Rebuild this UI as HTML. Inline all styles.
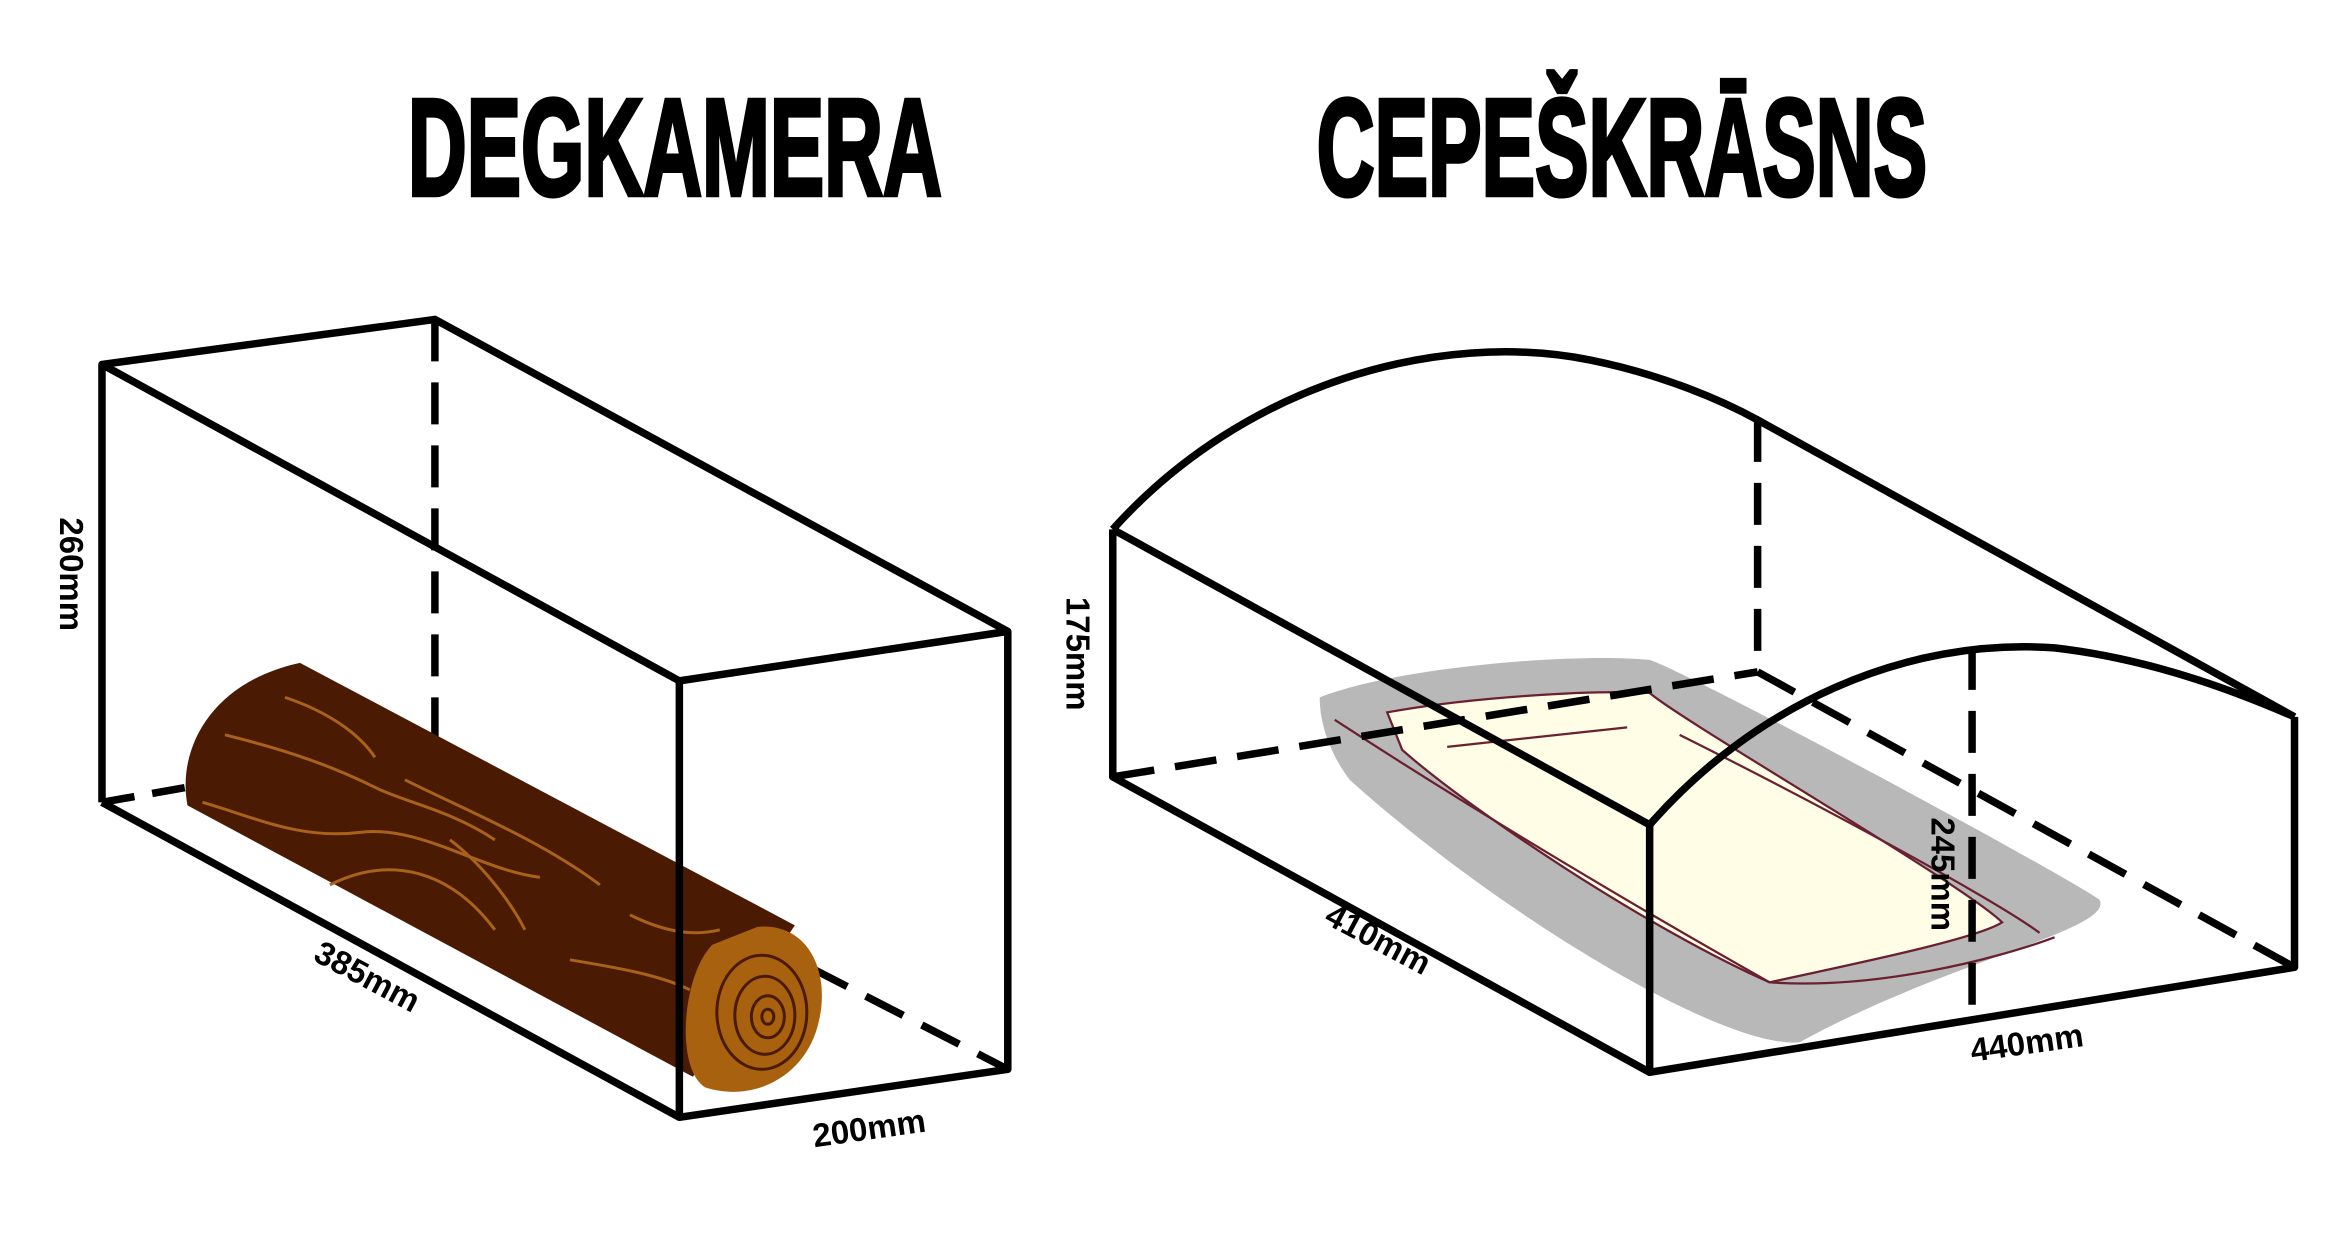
<!DOCTYPE html>
<html><head><meta charset="utf-8"><style>
html,body{margin:0;padding:0;background:#fff;width:2344px;height:1250px;overflow:hidden}
svg{display:block}
text{font-family:"Liberation Sans",sans-serif;font-weight:bold;fill:#000}
</style></head><body>
<svg width="2344" height="1250" viewBox="0 0 1563 833.5" preserveAspectRatio="none" xmlns="http://www.w3.org/2000/svg">
<rect width="1563" height="834" fill="#fff"/>
<!-- titles -->
<text x="272" y="130" font-size="92" textLength="356" lengthAdjust="spacingAndGlyphs" stroke="#000" stroke-width="3">DEGKAMERA</text>
<text x="878" y="130" font-size="92" textLength="407" lengthAdjust="spacingAndGlyphs" stroke="#000" stroke-width="3">CEPEŠKRĀSNS</text>

<!-- LEFT BOX -->
<g stroke="#000" stroke-width="5" fill="none" stroke-linejoin="round">
<line x1="290" y1="213" x2="290" y2="495" stroke-dasharray="28,14"/>
<line x1="68" y1="535" x2="130" y2="524" stroke-dasharray="22,12"/>
<line x1="540" y1="645" x2="672" y2="713" stroke-dasharray="28,14"/>
</g>
<!-- log -->
<path d="M200,442 L530,617 L462,718 L125,537 C118,500 140,455 200,442 Z" fill="#4a1a03"/>
<g stroke="#a8621a" stroke-width="2" fill="none">
<path d="M135,535 C170,545 200,560 240,555 C280,550 320,580 360,585"/>
<path d="M150,490 C190,500 220,510 250,525 C270,535 300,540 330,560"/>
<path d="M190,465 C220,475 240,490 250,505"/>
<path d="M220,590 C260,570 300,580 330,620"/>
<path d="M270,520 C310,540 360,560 400,590"/>
<path d="M300,560 C320,575 340,600 350,620"/>
<path d="M380,640 C410,645 440,650 460,660"/>
<path d="M420,610 C440,620 460,625 480,620"/>
</g>
<path d="M505,618 C540,615 555,650 545,685 C535,720 500,735 470,725 C450,712 455,650 475,630 Z" fill="#a8620f"/>
<g stroke="#4a1a03" stroke-width="2" fill="none">
<ellipse cx="508" cy="675" rx="30" ry="38"/>
<ellipse cx="510" cy="677" rx="20" ry="26"/>
<ellipse cx="512" cy="678" rx="11" ry="14"/>
<ellipse cx="512" cy="678" rx="4" ry="5"/>
</g>
<g stroke="#000" stroke-width="5" fill="none" stroke-linejoin="round">
<polyline points="68,535 68,243 290,213 672,421 453,454 68,243"/>
<polyline points="453,454 453,745 672,713 672,421"/>
<line x1="68" y1="535" x2="453" y2="745"/>
</g>
<text font-size="22" transform="translate(40,345) rotate(90)">260mm</text>
<text font-size="22" transform="translate(208,640) rotate(28)">385mm</text>
<text font-size="22" transform="translate(543,765) rotate(-8)">200mm</text>

<!-- RIGHT OVEN -->
<path d="M880,465 C930,445 1050,435 1100,440 C1130,450 1380,585 1400,600 C1410,620 1300,640 1200,695 C1150,700 1000,610 900,520 C885,500 880,480 880,465 Z" fill="#b8b8b8"/>
<path d="M925,475 C980,465 1060,460 1100,462 C1120,480 1310,590 1335,615 C1320,625 1250,640 1180,655 C1100,620 980,540 935,500 Z" fill="#fffde6" stroke="#6a2030" stroke-width="1.5"/>
<g stroke="#6a2030" stroke-width="1.5" fill="none">
<path d="M890,480 C990,545 1100,610 1180,655 C1250,660 1330,640 1370,625"/>
<line x1="965" y1="498" x2="1085" y2="485"/>
<path d="M1120,490 C1220,540 1330,600 1360,622"/>
</g>
<g stroke="#000" stroke-width="5" fill="none" stroke-linejoin="round">
<line x1="1172" y1="280" x2="1172" y2="448" stroke-dasharray="28,14"/>
<line x1="742" y1="518" x2="1172" y2="448" stroke-dasharray="28,14"/>
<line x1="1172" y1="448" x2="1530" y2="645" stroke-dasharray="28,14"/>
<line x1="1315" y1="432" x2="1315" y2="680" stroke-dasharray="28,14"/>
<path d="M742,353 C830,255 960,220 1060,240 C1110,250 1150,268 1172,280 L1530,478"/>
<path d="M1100,550 C1170,470 1270,425 1370,432 C1440,440 1500,465 1530,478"/>
<polyline points="742,353 742,518 1100,715 1530,645 1530,478"/>
<line x1="742" y1="353" x2="1100" y2="550"/>
<line x1="1100" y1="550" x2="1100" y2="715"/>
</g>
<text font-size="22" transform="translate(711,398) rotate(90)">175mm</text>
<text font-size="22" transform="translate(882,615) rotate(28)">410mm</text>
<text font-size="22" transform="translate(1288,545) rotate(90)">245mm</text>
<text font-size="22" transform="translate(1315,708) rotate(-8)">440mm</text>
</svg>
</body></html>
